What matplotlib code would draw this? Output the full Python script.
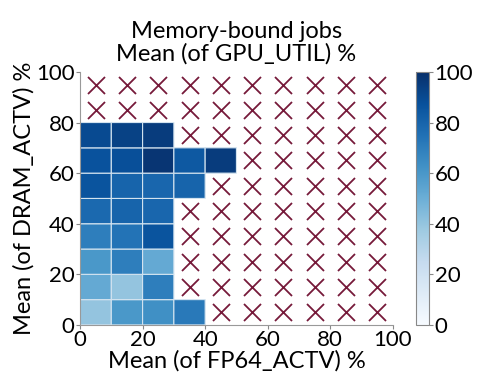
import numpy as np
import matplotlib
matplotlib.use("Agg")
from matplotlib import pyplot as plt

plt.rcParams['font.family'] = ['Lato', 'DejaVu Sans']

# bin edges (percent)
x_edges = [0, 10, 20, 30, 40, 50, 60, 70, 80, 90, 100]
y_edges = [0, 10, 20, 30, 40, 50, 60, 70, 80, 90, 100]

# mean GPU_UTIL per bin, rows from y=0 upward; None = no jobs
row_0_10 = [40, 60, 63, 72, None, None, None, None, None, None]
row_10_20 = [52, 40, 70, None, None, None, None, None, None, None]
row_20_30 = [60, 70, 52, None, None, None, None, None, None, None]
row_30_40 = [70, 74, 86, None, None, None, None, None, None, None]
row_40_50 = [78, 80, 79, None, None, None, None, None, None, None]
row_50_60 = [86, 80, 79, 80, None, None, None, None, None, None]
row_60_70 = [87, 88, 98, 84, 95, None, None, None, None, None]
row_70_80 = [90, 93, 95, None, None, None, None, None, None, None]
row_80_90 = [None] * 10
row_90_100 = [None] * 10

rows = [row_0_10, row_10_20, row_20_30, row_30_40, row_40_50,
        row_50_60, row_60_70, row_70_80, row_80_90, row_90_100]
grid = np.array([[np.nan if v is None else v for v in r] for r in rows], dtype=float)

fig = plt.figure(figsize=(4.88, 3.91), dpi=100)
ax = fig.add_axes([0.164, 0.169, 0.641, 0.647])
cax = fig.add_axes([0.853, 0.169, 0.026, 0.647])

# pcolor skips masked cells entirely, so empty bins get no edges
mesh = ax.pcolor(x_edges, y_edges, np.ma.masked_invalid(grid), cmap='Blues',
                 vmin=0, vmax=100, edgecolor='#d4e4f0', linewidth=0.8)

# cross out empty bins
xc = [(x_edges[i] + x_edges[i + 1]) / 2 for i in range(len(x_edges) - 1)]
yc = [(y_edges[j] + y_edges[j + 1]) / 2 for j in range(len(y_edges) - 1)]
ex, ey = [], []
for j, r in enumerate(rows):
    for i, v in enumerate(r):
        if v is None:
            ex.append(xc[i])
            ey.append(yc[j])
ax.scatter(ex, ey, marker='x', s=150, color='#761a3a', linewidths=1.3)

ax.set_xlim(0, 100)
ax.set_ylim(0, 100)
ax.set_xticks([0, 20, 40, 60, 80, 100])
ax.set_yticks([0, 20, 40, 60, 80, 100])
ax.tick_params(labelsize=16, color='#888888', length=3, pad=1)
for s in ['top', 'right']:
    ax.spines[s].set_visible(False)
for s in ['left', 'bottom']:
    ax.spines[s].set_color('#999999')
ax.set_xlabel('Mean (of FP64_ACTV) %', fontsize=17, labelpad=0)
ax.set_ylabel('Mean (of DRAM_ACTV) %', fontsize=17, labelpad=1)
ax.set_title('Memory-bound jobs\nMean (of GPU_UTIL) %', fontsize=17, linespacing=1.1, pad=8)

cb = fig.colorbar(mesh, cax=cax, ticks=[0, 20, 40, 60, 80, 100])
cb.outline.set_edgecolor('#888888')
cb.ax.tick_params(labelsize=16, color='#888888', length=3, pad=1)

fig.savefig('out.png', dpi=100)
